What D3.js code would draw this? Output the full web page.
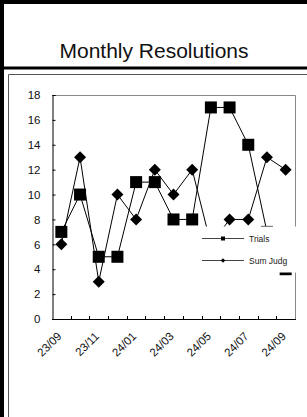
<!DOCTYPE html>
<html>
<head>
<meta charset="utf-8">
<script src="https://cdn.jsdelivr.net/npm/d3@7"></script>
<style>
body { margin: 0; background: #fff; }
text { font-family: "Liberation Sans", Arial, sans-serif; }
</style>
</head>
<body>
<div id="app"></div>
<script>
const width = 307,
    height = 417;

const months = ["23/09", "23/10", "23/11", "23/12", "24/01", "24/02", "24/03",
    "24/04", "24/05", "24/06", "24/07", "24/08", "24/09"];
const tickLabels = ["23/09", "23/11", "24/01", "24/03", "24/05", "24/07", "24/09"];
const yTicks = [0, 2, 4, 6, 8, 10, 12, 14, 16, 18];
const trials = [7, 10, 5, 5, 11, 11, 8, 8, 17, 17, 14, 7, 4];
const sumJudg = [6, 13, 3, 10, 8, 12, 10, 12, 6, 8, 8, 13, 12];

// plot box
const plotLeft = 52, plotRight = 295, plotTop = 95, plotBottom = 319;

const x = d3.scaleBand().domain(months).range([plotLeft, plotRight]);
const y = d3.scaleLinear().domain([0, 18]).range([plotBottom, plotTop]);

const svg = d3.select("#app")
    .append("svg")
    .attr("width", width)
    .attr("height", height);

//Frame: black bars, title, panel edge
svg.append("rect").attr("x", 0).attr("y", 0).attr("width", width).attr("height", 4).attr("fill", "#000");
svg.append("rect").attr("x", 0).attr("y", 0).attr("width", 4).attr("height", height).attr("fill", "#000");
svg.append("rect").attr("x", 0).attr("y", 66.5).attr("width", width).attr("height", 3).attr("fill", "#000");

svg.append("text")
    .attr("x", 154)
    .attr("y", 58)
    .attr("text-anchor", "middle")
    .attr("font-size", 21)
    .attr("fill", "#111")
    .text("Monthly Resolutions");

svg.append("path")
    .attr("d", "M8.5," + height + "V74.5H" + width)
    .attr("fill", "none")
    .attr("stroke", "#555");

//Plot box top/right
svg.append("path")
    .attr("d", "M" + plotLeft + "," + (plotTop + 0.5) + "H" + (plotRight + 0.5) + "V" + plotBottom)
    .attr("fill", "none")
    .attr("stroke", "#888");

//Y-Axis
const yAxis = svg.append("g")
    .attr("transform", "translate(" + (plotLeft + 0.5) + ",0)")
    .call(d3.axisRight(y).tickValues(yTicks).tickSize(3).tickFormat(d => d));
yAxis.select(".domain").attr("stroke", "#000");
yAxis.selectAll("text")
    .attr("x", -12)
    .attr("text-anchor", "end")
    .attr("font-size", 11.5)
    .attr("font-family", "Liberation Sans, Arial, sans-serif")
    .attr("fill", "#111");

//X-Axis ticks at band edges
const edges = months.slice(1).map(m => x(m));
svg.append("g").selectAll("line")
    .data(edges).enter()
    .append("line")
    .attr("x1", d => Math.round(d) + 0.5)
    .attr("x2", d => Math.round(d) + 0.5)
    .attr("y1", plotBottom)
    .attr("y2", plotBottom - 3)
    .attr("stroke", "#000");
svg.append("line")
    .attr("x1", plotLeft).attr("x2", plotRight + 1)
    .attr("y1", plotBottom + 0.5).attr("y2", plotBottom + 0.5)
    .attr("stroke", "#000");

svg.append("g").selectAll("text")
    .data(tickLabels).enter()
    .append("text")
    .attr("transform", d => "translate(" + (x(d) + x.bandwidth() / 2 + 1) + "," + (plotBottom + 18) + ") rotate(-45)")
    .attr("text-anchor", "end")
    .attr("font-size", 11.5)
    .attr("fill", "#111")
    .text(d => d);

const cx = m => x(m) + x.bandwidth() / 2;
const line = d3.line().x(d => cx(d[0])).y(d => y(d[1]));

const trialPts = months.map((m, i) => [m, trials[i]]);
const judgPts = months.map((m, i) => [m, sumJudg[i]]);

//Trials
svg.append("path").datum(trialPts).attr("d", line)
    .attr("fill", "none").attr("stroke", "#000").attr("stroke-width", 1);
svg.append("g").selectAll("rect")
    .data(trialPts).enter()
    .append("rect")
    .attr("x", d => cx(d[0]) - 6)
    .attr("y", d => y(d[1]) - 6)
    .attr("width", 12)
    .attr("height", 12)
    .attr("fill", "#000");

//Sum Judg
svg.append("path").datum(judgPts).attr("d", line)
    .attr("fill", "none").attr("stroke", "#000").attr("stroke-width", 1);
svg.append("g").selectAll("path")
    .data(judgPts).enter()
    .append("path")
    .attr("transform", d => "translate(" + cx(d[0]) + "," + y(d[1]) + ") rotate(45)")
    .attr("d", d3.symbol().type(d3.symbolSquare).size(72))
    .attr("fill", "#000");

//Legend
const legend = svg.append("g");
legend.append("rect")
    .attr("x", 198).attr("y", 226.5)
    .attr("width", 99).attr("height", 46)
    .attr("fill", "#fff");
const legendItems = [["Trials", "square", 238], ["Sum Judg", "diamond", 260]];
legendItems.forEach(function (d) {
    legend.append("line")
        .attr("x1", 202).attr("x2", 244)
        .attr("y1", d[2] + 0.5).attr("y2", d[2] + 0.5)
        .attr("stroke", "#444");
    if (d[1] == "square") {
        legend.append("rect").attr("x", 221).attr("y", d[2] - 1.5)
            .attr("width", 4).attr("height", 4).attr("fill", "#000");
    } else {
        legend.append("path")
            .attr("transform", "translate(223," + (d[2] + 0.5) + ") rotate(45)")
            .attr("d", d3.symbol().type(d3.symbolSquare).size(10))
            .attr("fill", "#000");
    }
    legend.append("text")
        .attr("x", 249).attr("y", d[2] + 3.5)
        .attr("font-size", 8.5)
        .attr("fill", "#222")
        .text(d[0]);
});
</script>
</body>
</html>
